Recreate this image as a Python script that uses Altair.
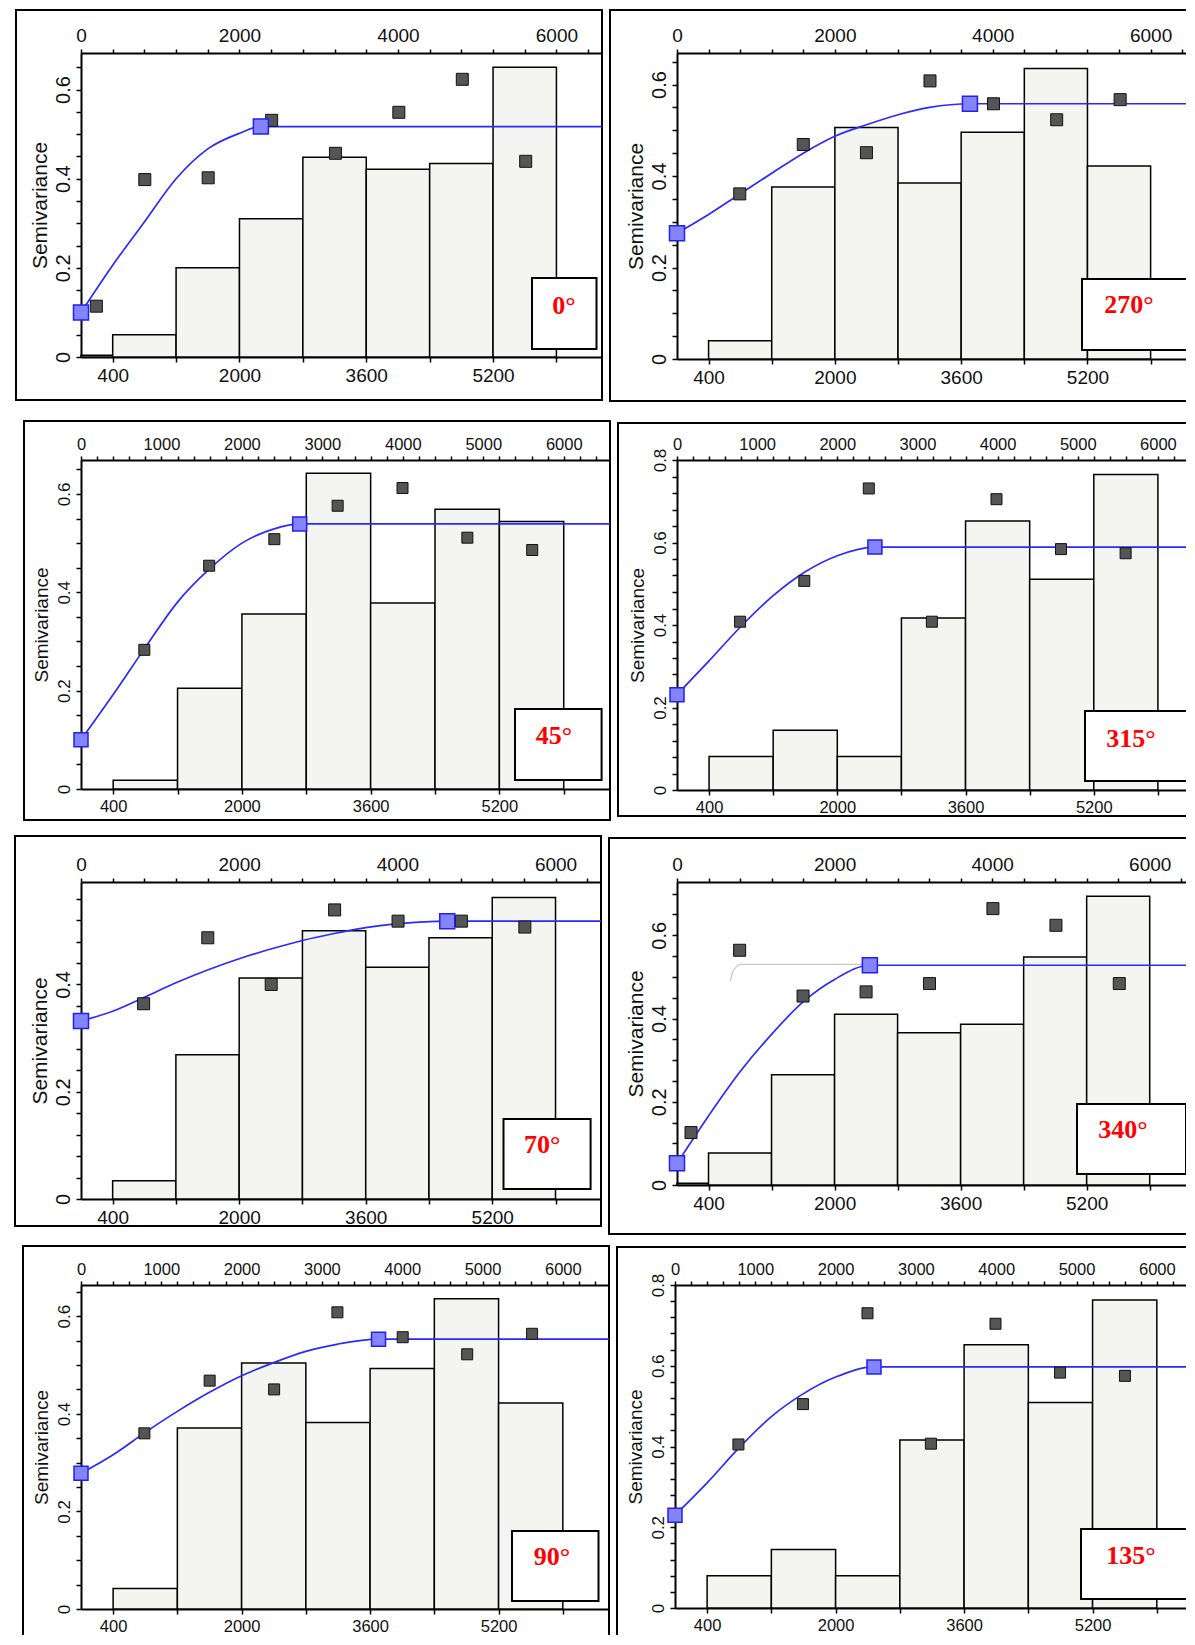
import altair as alt
import pandas as pd

# ---------------- shared bins / axes ----------------
BIN_START = [0, 400, 1200, 2000, 2800, 3600, 4400, 5200]
BIN_END = [400, 1200, 2000, 2800, 3600, 4400, 5200, 6000]
BOTTOM_TICKS = [400, 1200, 2000, 2800, 3600, 4400, 5200, 6000]
X_MAX = 6575

# ---------------- 0° ----------------
BARS_0 = [0.004, 0.050, 0.200, 0.310, 0.448, 0.421, 0.434, 0.650]
LAG_0 = [194, 805, 1605, 2406, 3211, 4011, 4812, 5612]
GAMMA_0 = [0.114, 0.398, 0.402, 0.531, 0.457, 0.549, 0.623, 0.439]
MODEL_H_0 = [0, 400, 800, 1200, 1600, 2000, 2270]
MODEL_G_0 = [0.100, 0.206, 0.303, 0.400, 0.467, 0.502, 0.517]

# ---------------- 270° ----------------
BARS_270 = [0, 0.040, 0.376, 0.506, 0.385, 0.496, 0.635, 0.422]
LAG_270 = [795, 1600, 2400, 3205, 4010, 4810, 5614]
GAMMA_270 = [0.361, 0.469, 0.451, 0.608, 0.558, 0.523, 0.567]
MODEL_H_270 = [0, 400, 800, 1200, 1600, 2000, 2400, 2800, 3200, 3711]
MODEL_G_270 = [0.275, 0.316, 0.361, 0.406, 0.450, 0.487, 0.512, 0.534, 0.550, 0.558]

# ---------------- 45° ----------------
BARS_45 = [0, 0.018, 0.205, 0.356, 0.642, 0.378, 0.569, 0.544]
LAG_45 = [787, 1593, 2403, 3190, 3996, 4802, 5608]
GAMMA_45 = [0.283, 0.454, 0.508, 0.576, 0.612, 0.511, 0.486]
MODEL_H_45 = [0, 400, 800, 1200, 1600, 2000, 2400, 2718]
MODEL_G_45 = [0.100, 0.192, 0.288, 0.380, 0.448, 0.500, 0.529, 0.539]

# ---------------- 315° ----------------
BARS_315 = [0, 0.081, 0.145, 0.081, 0.417, 0.652, 0.511, 0.765]
LAG_315 = [787, 1588, 2393, 3180, 3986, 4791, 5597]
GAMMA_315 = [0.408, 0.507, 0.731, 0.408, 0.705, 0.584, 0.574]
MODEL_H_315 = [0, 400, 800, 1200, 1600, 2000, 2469]
MODEL_G_315 = [0.231, 0.313, 0.397, 0.471, 0.529, 0.568, 0.589]

# ---------------- 70° ----------------
BARS_70 = [0, 0.034, 0.269, 0.412, 0.500, 0.432, 0.487, 0.562]
LAG_70 = [792, 1603, 2405, 3207, 4009, 4810, 5612]
GAMMA_70 = [0.364, 0.487, 0.400, 0.539, 0.518, 0.518, 0.507]
MODEL_H_70 = [0, 400, 800, 1200, 1600, 2000, 2400, 2800, 3200, 3600, 4000, 4631]
MODEL_G_70 = [0.332, 0.350, 0.376, 0.403, 0.427, 0.448, 0.466, 0.482, 0.495, 0.506, 0.513, 0.518]

# ---------------- 340° ----------------
BARS_340 = [0.004, 0.077, 0.265, 0.410, 0.366, 0.386, 0.548, 0.694]
LAG_340 = [178, 795, 1600, 2400, 3205, 4010, 4810, 5614]
GAMMA_340 = [0.126, 0.564, 0.454, 0.464, 0.484, 0.664, 0.624, 0.484]
MODEL_H_340 = [0, 400, 800, 1200, 1600, 2000, 2448]
MODEL_G_340 = [0.052, 0.166, 0.272, 0.362, 0.440, 0.494, 0.528]
GHOST_H_340 = [675, 723, 819, 2410]
GHOST_G_340 = [0.490, 0.518, 0.530, 0.530]

# ---------------- 90° ----------------
BARS_90 = [0, 0.042, 0.371, 0.504, 0.382, 0.493, 0.636, 0.422]
LAG_90 = [789, 1602, 2405, 3193, 4006, 4809, 5617]
GAMMA_90 = [0.360, 0.468, 0.450, 0.608, 0.557, 0.522, 0.564]
MODEL_H_90 = [0, 400, 800, 1200, 1600, 2000, 2400, 2800, 3200, 3705]
MODEL_G_90 = [0.278, 0.316, 0.362, 0.405, 0.444, 0.478, 0.505, 0.528, 0.543, 0.553]

# ---------------- 135° ----------------
BARS_135 = [0, 0.080, 0.145, 0.080, 0.416, 0.652, 0.509, 0.763]
LAG_135 = [790, 1593, 2397, 3187, 3991, 4795, 5603]
GAMMA_135 = [0.405, 0.505, 0.730, 0.407, 0.704, 0.583, 0.575]
MODEL_H_135 = [0, 400, 800, 1200, 1600, 2000, 2478]
MODEL_G_135 = [0.230, 0.310, 0.397, 0.474, 0.531, 0.572, 0.597]

FRAME_W = 586

PANELS = [
    dict(label="0°", bars=BARS_0, lag=LAG_0, gamma=GAMMA_0, mh=MODEL_H_0, mg=MODEL_G_0,
         left=65, top=43, ph=304, bottom=43, ymax=0.682, ystep=0.05, xlab=2000, xtick=400, big=True,
         box=(70, 5.5, 225, 296), txt=(38, 253)),
    dict(label="270°", bars=BARS_270, lag=LAG_270, gamma=GAMMA_270, mh=MODEL_H_270, mg=MODEL_G_270,
         left=67, top=43, ph=306, bottom=42, ymax=0.669, ystep=0.05, xlab=2000, xtick=400, big=True,
         box=(114, 5, 226, 297), txt=(67, 252)),
    dict(label="45°", bars=BARS_45, lag=LAG_45, gamma=GAMMA_45, mh=MODEL_H_45, mg=MODEL_G_45,
         left=57, top=39, ph=329, bottom=31, ymax=0.669, ystep=0.05, xlab=1000, xtick=200, big=False,
         box=(95, 8.4, 249, 320), txt=(56, 276)),
    dict(label="315°", bars=BARS_315, lag=LAG_315, gamma=GAMMA_315, mh=MODEL_H_315, mg=MODEL_G_315,
         left=59, top=37, ph=330, bottom=26, ymax=0.8, ystep=0.04, xlab=1000, xtick=200, big=False,
         box=(119, 11, 251, 321), txt=(73, 279)),
    dict(label="70°", bars=BARS_70, lag=LAG_70, gamma=GAMMA_70, mh=MODEL_H_70, mg=MODEL_G_70,
         left=66, top=46, ph=317, bottom=27, ymax=0.591, ystep=0.04, xlab=2000, xtick=400, big=True,
         box=(97.5, 10.4, 237, 307), txt=(58.7, 263)),
    dict(label="340°", bars=BARS_340, lag=LAG_340, gamma=GAMMA_340, mh=MODEL_H_340, mg=MODEL_G_340,
         left=68, top=44, ph=303, bottom=49, ymax=0.728, ystep=0.05, xlab=2000, xtick=400, big=True,
         box=(118, 9, 222, 292), txt=(72, 248), ghost=(GHOST_H_340, GHOST_G_340)),
    dict(label="90°", bars=BARS_90, lag=LAG_90, gamma=GAMMA_90, mh=MODEL_H_90, mg=MODEL_G_90,
         left=58, top=39, ph=324, bottom=40, ymax=0.664, ystep=0.05, xlab=1000, xtick=200, big=False,
         box=(97, 10.5, 246, 316), txt=(57, 272)),
    dict(label="135°", bars=BARS_135, lag=LAG_135, gamma=GAMMA_135, mh=MODEL_H_135, mg=MODEL_G_135,
         left=58, top=38, ph=323, bottom=40, ymax=0.8, ystep=0.04, xlab=1000, xtick=200, big=False,
         box=(122, 9, 244, 314), txt=(72, 271)),
]

Y_LABEL_EXPR = ("abs(datum.value*5 - round(datum.value*5)) < 0.001 ? "
                "(datum.value == 0 ? '0' : format(datum.value, '.1f')) : ''")
BOTTOM_LABEL_EXPR = "(datum.value - 400) % 1600 == 0 ? format(datum.value, 'd') : ''"


def make_panel(p):
    L, T, PH, B = p["left"], p["top"], p["ph"], p["bottom"]
    PW = FRAME_W - L
    fx = 19 if p["big"] else 16.5
    fy = 20 if p["big"] else 17
    ft = 21 if p["big"] else 19
    pt_size = 144 if p["big"] else 121
    knot_size = 225 if p["big"] else 196

    xsc = alt.Scale(domain=[0, X_MAX], nice=False, zero=False)
    ysc = alt.Scale(domain=[0, p["ymax"]], nice=False, zero=True)
    one = pd.DataFrame({"k": [0]})

    n_y = int(p["ymax"] / p["ystep"] + 1e-9)
    y_ticks = [round(i * p["ystep"], 4) for i in range(n_y + 1)]
    top_ticks = list(range(0, X_MAX, p["xtick"]))
    top_expr = f"datum.value % {p['xlab']} == 0 ? format(datum.value, 'd') : ''"

    frame = alt.Chart(one).mark_rect(fillOpacity=0, stroke="black", strokeWidth=2).encode(
        x=alt.value(-L), x2=alt.value(PW), y=alt.value(-T), y2=alt.value(PH + B)
    )

    y_axis_opts = dict(
        orient="left", values=y_ticks, labelExpr=Y_LABEL_EXPR, title="Semivariance",
        labelAngle=-90, labelAlign="center", labelBaseline="bottom", tickSize=5,
        labelFontSize=fy, labelPadding=3, titleFontSize=ft, titlePadding=3)
    if not p["big"]:
        y_axis_opts["titleX"] = -30

    bars_df = pd.DataFrame({"start": BIN_START, "end": BIN_END, "g": p["bars"]})
    bars_df = bars_df[bars_df["g"] > 0]
    bars = alt.Chart(bars_df).mark_rect(fill="#f4f5f3", stroke="black", strokeWidth=1.5).encode(
        x=alt.X("start:Q", scale=xsc, axis=alt.Axis(
            orient="bottom", values=BOTTOM_TICKS, labelExpr=BOTTOM_LABEL_EXPR, title=None,
            tickSize=5, labelFontSize=fx, labelPadding=4)),
        x2="end:Q",
        y=alt.Y("g:Q", scale=ysc, axis=alt.Axis(**y_axis_opts)),
        y2=alt.datum(0),
    )

    layers = [frame, bars]

    if "ghost" in p:
        gdf = pd.DataFrame({"h": p["ghost"][0], "g": p["ghost"][1]})
        ghost = alt.Chart(gdf).mark_line(color="#c8c8c8", strokeWidth=1.2, interpolate="monotone").encode(
            x=alt.X("h:Q", scale=xsc, axis=None), y=alt.Y("g:Q", scale=ysc, axis=None)
        )
        layers.append(ghost)

    line_df = pd.DataFrame({"h": p["mh"] + [X_MAX], "g": p["mg"] + [p["mg"][-1]]})
    model = alt.Chart(line_df).mark_line(color="#2a2aff", strokeWidth=1.7, interpolate="monotone").encode(
        x=alt.X("h:Q", scale=xsc, axis=None), y=alt.Y("g:Q", scale=ysc, axis=None)
    )
    layers.append(model)

    pts_df = pd.DataFrame({"h": p["lag"], "g": p["gamma"]})
    pts = alt.Chart(pts_df).mark_square(size=pt_size, color="#555555", stroke="#111111",
                                        strokeWidth=1, opacity=1).encode(
        x=alt.X("h:Q", scale=xsc, axis=alt.Axis(
            orient="top", values=top_ticks, labelExpr=top_expr, title=None,
            tickSize=4, labelFontSize=fx, labelPadding=4)),
        y=alt.Y("g:Q", scale=ysc, axis=None),
    )
    layers.append(pts)

    knots_df = pd.DataFrame({"h": [p["mh"][0], p["mh"][-1]], "g": [p["mg"][0], p["mg"][-1]]})
    knots = alt.Chart(knots_df).mark_square(size=knot_size, color="#8484ff", stroke="#2020f0",
                                            strokeWidth=1.5, opacity=1).encode(
        x=alt.X("h:Q", scale=xsc, axis=None), y=alt.Y("g:Q", scale=ysc, axis=None)
    )
    layers.append(knots)

    r0, r1, y0, y1 = p["box"]
    box = alt.Chart(one).mark_rect(fill="white", stroke="black", strokeWidth=2).encode(
        x=alt.value(PW - r0), x2=alt.value(PW - r1), y=alt.value(y0), y2=alt.value(y1)
    )
    tx, ty = p["txt"]
    txt = alt.Chart(one).mark_text(font="Liberation Serif", fontWeight="bold", fontSize=26,
                                   color="#ff0000", align="center", baseline="middle").encode(
        x=alt.value(PW - tx), y=alt.value(ty), text=alt.value(p["label"])
    )
    layers += [box, txt]

    return alt.layer(*layers).resolve_axis(x="independent", y="independent").properties(
        width=PW, height=PH)


panels = [make_panel(p) for p in PANELS]
row1 = alt.hconcat(panels[0], panels[1], spacing=2)
row2 = alt.hconcat(panels[2], panels[3], spacing=2)
row3 = alt.hconcat(panels[4], panels[5], spacing=2)
row4 = alt.hconcat(panels[6], panels[7], spacing=2)

lower = alt.vconcat(row2, alt.vconcat(row3, row4, spacing=8), spacing=12)

# content is wider/taller than the page; negative padding crops the right and bottom edges
chart = alt.vconcat(row1, lower, spacing=16).properties(
    padding={"left": 5, "top": 0, "right": -22, "bottom": -16}
).configure_view(stroke="transparent").configure_axis(
    domainColor="black", domainWidth=2, tickColor="black", tickWidth=1.5,
    labelColor="#111111", labelFont="Liberation Sans", titleFont="Liberation Sans",
    titleFontWeight="normal", titleColor="#111111", grid=False, labelOverlap=False,
    labelFlush=False,
)

chart.save("out.html", embed_options={"renderer": "svg", "actions": False})
